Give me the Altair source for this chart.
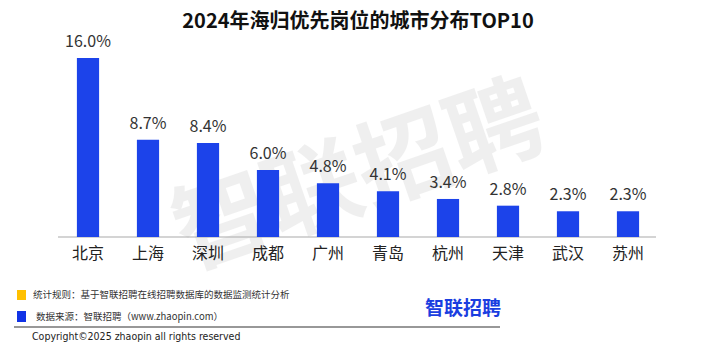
import altair as alt
import pandas as pd

cities = ["北京", "上海", "深圳", "成都", "广州", "青岛", "杭州", "天津", "武汉", "苏州"]
shares = [16.0, 8.7, 8.4, 6.0, 4.8, 4.1, 3.4, 2.8, 2.3, 2.3]
labels = ["16.0%", "8.7%", "8.4%", "6.0%", "4.8%", "4.1%", "3.4%", "2.8%", "2.3%", "2.3%"]

title_text = "2024年海归优先岗位的城市分布TOP10"
note_rule = "统计规则：基于智联招聘在线招聘数据库的数据监测统计分析"
note_source = "数据来源：智联招聘（www.zhaopin.com）"
copyright_text = "Copyright©2025 zhaopin all rights reserved"
logo_text = "智联招聘"

FONT = "Noto Sans CJK SC"
BLUE = "#1c43ea"

df = pd.DataFrame({"city": cities, "share": shares, "label": labels})

x = alt.X("city:N", sort=cities, axis=None,
          scale=alt.Scale(range=[50, 650], paddingInner=0.63, paddingOuter=0.315))
y = alt.Y("share:Q", axis=None, scale=alt.Scale(domain=[0, 16], range=[229, 50]))

one = pd.DataFrame({"k": [0]})

watermark = alt.Chart(one).mark_text(
    text=logo_text, font=FONT, fontSize=96, fontWeight="bold", angle=341,
    color="#000000", opacity=0.06, baseline="middle"
).encode(x=alt.value(352), y=alt.value(171))

bars = alt.Chart(df).mark_bar(color=BLUE).encode(x=x, y=y)

values = alt.Chart(df).mark_text(
    font=FONT, fontSize=16, color="#333333", baseline="bottom", dy=-8
).encode(x=x, y=y, text="label:N")

cats = alt.Chart(df).mark_text(
    font=FONT, fontSize=16, color="#222222", baseline="middle"
).encode(x=x, y=alt.value(246), text="city:N")

baseline = alt.Chart(one).mark_rule(color="#aaaaaa", strokeWidth=1.2).encode(
    x=alt.value(50), x2=alt.value(648), y=alt.value(229))

title = alt.Chart(one).mark_text(
    text=title_text, font=FONT, fontSize=20, fontWeight="bold", color="#111111",
    baseline="middle"
).encode(x=alt.value(350), y=alt.value(14))

sq1 = alt.Chart(one).mark_rect(color="#ffc000").encode(
    x=alt.value(9), x2=alt.value(18), y=alt.value(282), y2=alt.value(292))
sq2 = alt.Chart(one).mark_rect(color="#1133e6").encode(
    x=alt.value(9), x2=alt.value(18), y=alt.value(303), y2=alt.value(314))

t1 = alt.Chart(one).mark_text(
    text=note_rule, font=FONT, fontSize=9.5, color="#333333", align="left",
    baseline="middle"
).encode(x=alt.value(25), y=alt.value(287))
t2 = alt.Chart(one).mark_text(
    text=note_source, font=FONT, fontSize=9.5, color="#333333", align="left",
    baseline="middle"
).encode(x=alt.value(28), y=alt.value(309))

line = alt.Chart(one).mark_rule(color="#333333", strokeWidth=1.2).encode(
    x=alt.value(6), x2=alt.value(492), y=alt.value(319))

cp = alt.Chart(one).mark_text(
    text=copyright_text, font="DejaVu Sans Condensed, Liberation Sans", fontSize=10.5,
    color="#222222", align="left", baseline="middle"
).encode(x=alt.value(24), y=alt.value(329))

logo = alt.Chart(one).mark_text(
    text=logo_text, font=FONT, fontSize=19, fontWeight="bold", color="#1a3ee0",
    align="left", baseline="middle"
).encode(x=alt.value(417), y=alt.value(301))

chart = alt.layer(
    watermark, baseline, bars, values, cats, title, sq1, sq2, t1, t2, line, cp, logo
).properties(
    width=700, height=344, autosize=alt.AutoSizeParams(type="none"), padding=0,
    background="white"
).configure_view(stroke=None)

chart.save("out.html", embed_options={"renderer": "svg", "actions": False})
